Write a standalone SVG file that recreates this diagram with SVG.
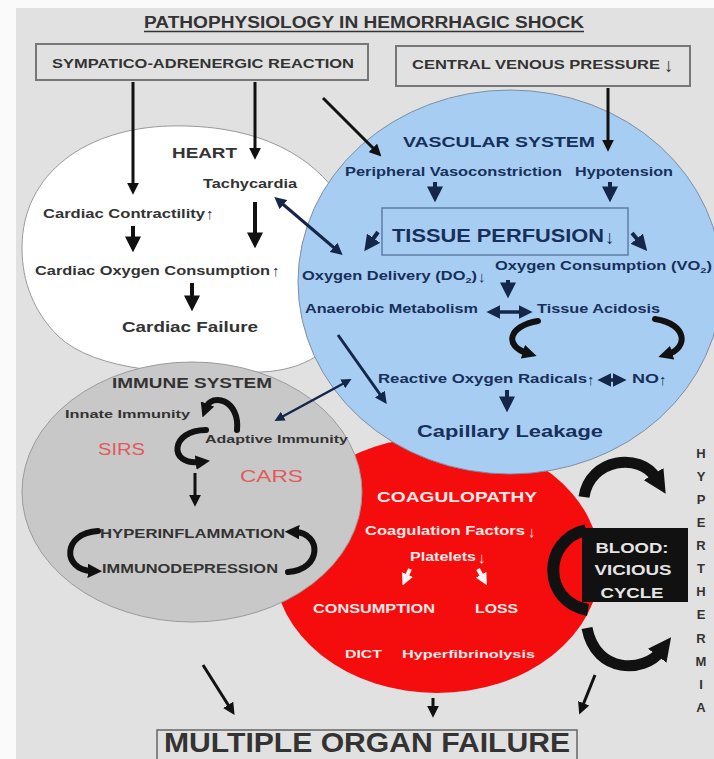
<svg xmlns="http://www.w3.org/2000/svg" width="714" height="759" viewBox="0 0 714 759">
<style>
text{font-family:"Liberation Sans",Arial,"DejaVu Sans",sans-serif;font-weight:bold}
.d{fill:#333}
.n{fill:#17305a}
.w{fill:#ffe8e8}
.g{fill:#e4e4e4}
.r{fill:#e25a5a;font-weight:normal}
.thin{font-weight:normal}
.k{stroke:#111;fill:none;marker-end:url(#ah)}
.kn{stroke:#14264a;fill:none;marker-end:url(#ahn)}
.dbl{stroke:#14264a;fill:none;marker-start:url(#ahn);marker-end:url(#ahn)}
.cv{stroke:#111;fill:none;stroke-linecap:round;marker-end:url(#ahc)}
.cb{stroke:#111;fill:none;stroke-linecap:butt;marker-end:url(#ahb)}
.wa{stroke:#fff3f3;stroke-width:4;fill:none;marker-end:url(#ahw)}
.box{fill:none;stroke:#777;stroke-width:2}
</style>
<defs>
<marker id="ah" viewBox="0 0 10 10" refX="6" refY="5" markerWidth="4" markerHeight="4" orient="auto-start-reverse"><path d="M0,0 L10,5 L0,10 z" fill="#111"/></marker>
<marker id="ahn" viewBox="0 0 10 10" refX="6" refY="5" markerWidth="4" markerHeight="4" orient="auto-start-reverse"><path d="M0,0 L10,5 L0,10 z" fill="#14264a"/></marker>
<marker id="ahc" viewBox="0 0 10 10" refX="3" refY="5" markerWidth="2.4" markerHeight="2.4" orient="auto-start-reverse"><path d="M0,0 L10,5 L0,10 z" fill="#111"/></marker>
<marker id="ahb" viewBox="0 0 10 10" refX="2" refY="5" markerWidth="2.1" markerHeight="2.1" orient="auto"><path d="M0,0 L10,5 L0,10 z" fill="#111"/></marker>
<marker id="ahw" viewBox="0 0 10 10" refX="5" refY="5" markerWidth="3" markerHeight="3" orient="auto"><path d="M0,0 L10,5 L0,10 z" fill="#fff3f3"/></marker>
</defs>
<rect x="0" y="0" width="714" height="759" fill="#fafafa"/>
<rect x="16" y="8" width="698" height="751" fill="#e1e1e1"/>

<g id="title">
<text class="d" x="144" y="28" font-size="16" textLength="440" lengthAdjust="spacingAndGlyphs">PATHOPHYSIOLOGY IN HEMORRHAGIC SHOCK</text>
<line x1="144" y1="31.5" x2="584" y2="31.5" stroke="#333" stroke-width="1.6"/>
</g>

<g id="sympatico">
<rect class="box" x="36" y="44" width="332" height="36"/>
<text class="d" x="52" y="68" font-size="13" textLength="302" lengthAdjust="spacingAndGlyphs">SYMPATICO-ADRENERGIC REACTION</text>
</g>

<g id="cvp">
<rect class="box" x="396" y="46" width="294" height="40"/>
<text class="d" x="412" y="69" font-size="13" textLength="248" lengthAdjust="spacingAndGlyphs">CENTRAL VENOUS PRESSURE</text>
<text class="d thin" x="664" y="72" font-size="19">↓</text>
</g>

<g id="coagulopathy">
<ellipse cx="437" cy="565" rx="163" ry="128" fill="#f50d0d"/>
<text class="w" x="377" y="502" font-size="15" textLength="160" lengthAdjust="spacingAndGlyphs">COAGULOPATHY</text>
<text class="w" x="365" y="535" font-size="12" textLength="160" lengthAdjust="spacingAndGlyphs">Coagulation Factors</text>
<text class="w thin" x="528" y="537" font-size="15">↓</text>
<text class="w" x="410" y="561" font-size="12" textLength="66" lengthAdjust="spacingAndGlyphs">Platelets</text>
<text class="w thin" x="478" y="563" font-size="15">↓</text>
<text class="w" x="313" y="613" font-size="12" textLength="122" lengthAdjust="spacingAndGlyphs">CONSUMPTION</text>
<text class="w" x="475" y="613" font-size="12" textLength="43" lengthAdjust="spacingAndGlyphs">LOSS</text>
<text class="w" x="345" y="658" font-size="11" textLength="37" lengthAdjust="spacingAndGlyphs">DICT</text>
<text class="w" x="402" y="658" font-size="11" textLength="133" lengthAdjust="spacingAndGlyphs">Hyperfibrinolysis</text>
</g>

<g id="heart">
<path d="M22,248 C22,172 88,128 170,126 C252,124 322,152 352,220 C372,290 350,368 262,372 C180,376 96,372 58,336 C34,312 22,282 22,248 Z" fill="#fff" stroke="#9a9a9a" stroke-width="1"/>
<text class="d" x="172" y="158" font-size="15" textLength="65" lengthAdjust="spacingAndGlyphs">HEART</text>
<text class="d" x="203" y="188" font-size="12" textLength="94" lengthAdjust="spacingAndGlyphs">Tachycardia</text>
<text class="d" x="43" y="218" font-size="12" textLength="162" lengthAdjust="spacingAndGlyphs">Cardiac Contractility</text>
<text class="n thin" x="206" y="219" font-size="15">↑</text>
<text class="d" x="35" y="275" font-size="12" textLength="235" lengthAdjust="spacingAndGlyphs">Cardiac Oxygen Consumption</text>
<text class="n thin" x="272" y="276" font-size="15">↑</text>
<text class="d" x="122" y="332" font-size="15" textLength="136" lengthAdjust="spacingAndGlyphs">Cardiac Failure</text>
</g>

<g id="immune">
<ellipse cx="192" cy="492" rx="170" ry="130" fill="#c8c8c8" stroke="#9a9a9a" stroke-width="1"/>
<text class="d" x="112" y="388" font-size="14" textLength="160" lengthAdjust="spacingAndGlyphs">IMMUNE SYSTEM</text>
<text class="d" x="65" y="418" font-size="11" textLength="125" lengthAdjust="spacingAndGlyphs">Innate Immunity</text>
<text class="d" x="205" y="443" font-size="11" textLength="143" lengthAdjust="spacingAndGlyphs">Adaptive Immunity</text>
<text class="r" x="98" y="455" font-size="16" textLength="47" lengthAdjust="spacingAndGlyphs">SIRS</text>
<text class="r" x="240" y="482" font-size="17" textLength="63" lengthAdjust="spacingAndGlyphs">CARS</text>
<text class="d" x="100" y="538" font-size="12" textLength="185" lengthAdjust="spacingAndGlyphs">HYPERINFLAMMATION</text>
<text class="d" x="102" y="573" font-size="12" textLength="176" lengthAdjust="spacingAndGlyphs">IMMUNODEPRESSION</text>
</g>

<g id="vascular">
<ellipse cx="510" cy="282" rx="212" ry="192" fill="#a8cdf3" stroke="#7d8fa3" stroke-width="1"/>
<text class="n" x="403" y="147" font-size="15" textLength="192" lengthAdjust="spacingAndGlyphs">VASCULAR SYSTEM</text>
<text class="n" x="345" y="176" font-size="12" textLength="217" lengthAdjust="spacingAndGlyphs">Peripheral Vasoconstriction</text>
<text class="n" x="575" y="176" font-size="12" textLength="98" lengthAdjust="spacingAndGlyphs">Hypotension</text>
<rect x="382" y="208" width="246" height="47" fill="none" stroke="#5d7fa8" stroke-width="1.5"/>
<text class="n" x="392" y="242" font-size="19" textLength="212" lengthAdjust="spacingAndGlyphs">TISSUE PERFUSION</text>
<text class="n thin" x="605" y="244" font-size="19">↓</text>
<text class="n" x="302" y="280" font-size="12" textLength="175" lengthAdjust="spacingAndGlyphs">Oxygen Delivery (DO<tspan font-size="8" dy="3">2</tspan><tspan dy="-3">)</tspan></text>
<text class="n thin" x="478" y="282" font-size="15">↓</text>
<text class="n" x="495" y="270" font-size="12" textLength="217" lengthAdjust="spacingAndGlyphs">Oxygen Consumption (VO<tspan font-size="8" dy="3">2</tspan><tspan dy="-3">)</tspan></text>
<text class="n" x="305" y="313" font-size="12" textLength="173" lengthAdjust="spacingAndGlyphs">Anaerobic Metabolism</text>
<text class="n" x="537" y="313" font-size="12" textLength="123" lengthAdjust="spacingAndGlyphs">Tissue Acidosis</text>
<text class="n" x="378" y="383" font-size="12" textLength="209" lengthAdjust="spacingAndGlyphs">Reactive Oxygen Radicals</text>
<text class="n thin" x="587" y="385" font-size="15">↑</text>
<text class="n" x="632" y="383" font-size="12" textLength="27" lengthAdjust="spacingAndGlyphs">NO</text>
<text class="n thin" x="659" y="385" font-size="15">↑</text>
<text class="n" x="417" y="437" font-size="17" textLength="186" lengthAdjust="spacingAndGlyphs">Capillary Leakage</text>
</g>

<g id="blood-cycle">
<rect x="582" y="528" width="106" height="74" fill="#111"/>
<text class="g" x="632" y="553" font-size="15" text-anchor="middle" textLength="73" lengthAdjust="spacingAndGlyphs">BLOOD:</text>
<text class="g" x="633" y="575" font-size="15" text-anchor="middle" textLength="77" lengthAdjust="spacingAndGlyphs">VICIOUS</text>
<text class="g" x="632" y="598" font-size="15" text-anchor="middle" textLength="63" lengthAdjust="spacingAndGlyphs">CYCLE</text>
</g>

<g id="hyperthermia" class="d" font-size="13" text-anchor="middle">
<text class="d" x="701" y="458">H</text>
<text class="d" x="701" y="481">Y</text>
<text class="d" x="701" y="504">P</text>
<text class="d" x="701" y="527">E</text>
<text class="d" x="701" y="550">R</text>
<text class="d" x="701" y="573">T</text>
<text class="d" x="701" y="596">H</text>
<text class="d" x="701" y="619">E</text>
<text class="d" x="701" y="643">R</text>
<text class="d" x="701" y="666">M</text>
<text class="d" x="701" y="689">I</text>
<text class="d" x="701" y="712">A</text>
</g>

<g id="mof">
<rect x="157" y="730" width="420" height="34" fill="none" stroke="#666" stroke-width="1.5"/>
<text class="d" x="164" y="752" font-size="27" textLength="406" lengthAdjust="spacingAndGlyphs" fill="#222">MULTIPLE ORGAN FAILURE</text>
</g>

<g id="connectors">
<line class="k" x1="133" y1="82" x2="133" y2="190" stroke-width="3"/>
<line class="k" x1="255" y1="82" x2="255" y2="155" stroke-width="3"/>
<line class="k" x1="323" y1="98" x2="378" y2="153" stroke-width="3"/>
<line class="k" x1="608" y1="88" x2="608" y2="147" stroke-width="3"/>
<line class="k" x1="133" y1="226" x2="133" y2="246" stroke-width="4"/>
<line class="k" x1="255" y1="202" x2="255" y2="242" stroke-width="4"/>
<line class="k" x1="192" y1="283" x2="192" y2="305" stroke-width="4"/>
<line class="dbl" x1="278" y1="200" x2="339" y2="252" stroke-width="3"/>
<line class="kn" x1="435" y1="182" x2="435" y2="196" stroke-width="4"/>
<line class="kn" x1="610" y1="182" x2="610" y2="196" stroke-width="4"/>
<line class="kn" x1="378" y1="232" x2="368" y2="246" stroke-width="4"/>
<line class="kn" x1="632" y1="233" x2="643" y2="246" stroke-width="4"/>
<line class="kn" x1="508" y1="280" x2="508" y2="292" stroke-width="4"/>
<line class="dbl" x1="492" y1="312" x2="527" y2="312" stroke-width="3.5"/>
<line class="kn" x1="338" y1="335" x2="384" y2="400" stroke-width="3"/>
<line class="dbl" x1="603" y1="380" x2="621" y2="380" stroke-width="3.5"/>
<line class="kn" x1="507" y1="390" x2="507" y2="406" stroke-width="4"/>
<line class="dbl" x1="278" y1="419" x2="348" y2="381" stroke-width="2.5"/>
<line class="k" x1="195" y1="473" x2="195" y2="502" stroke-width="3"/>
<line class="k" x1="203" y1="665" x2="232" y2="711" stroke-width="3"/>
<line class="k" x1="433" y1="698" x2="433" y2="713" stroke-width="3"/>
<line class="k" x1="595" y1="675" x2="581" y2="710" stroke-width="3"/>
<line class="wa" x1="410" y1="569" x2="405" y2="580"/>
<line class="wa" x1="478" y1="569" x2="484" y2="580"/>
<path class="cv" d="M538,321 C508,326 504,346 527,353" stroke-width="6"/>
<path class="cv" d="M655,319 C688,324 688,348 668,354" stroke-width="6"/>
<path class="cv" d="M237,430 C240,400 212,392 206,408" stroke-width="6"/>
<path class="cv" d="M206,430 C170,430 168,466 200,462" stroke-width="6"/>
<path class="cv" d="M98,531 C62,533 62,570 92,571" stroke-width="6"/>
<path class="cv" d="M288,572 C322,570 322,533 295,532" stroke-width="6"/>
<path class="cb" d="M584,497 C590,458 640,452 656,478" stroke-width="11"/>
<path class="cb" d="M587,628 C596,675 645,672 660,652" stroke-width="11"/>
<path d="M586,530 C542,540 542,602 588,610" stroke="#111" stroke-width="12" fill="none"/>
</g>
</svg>
